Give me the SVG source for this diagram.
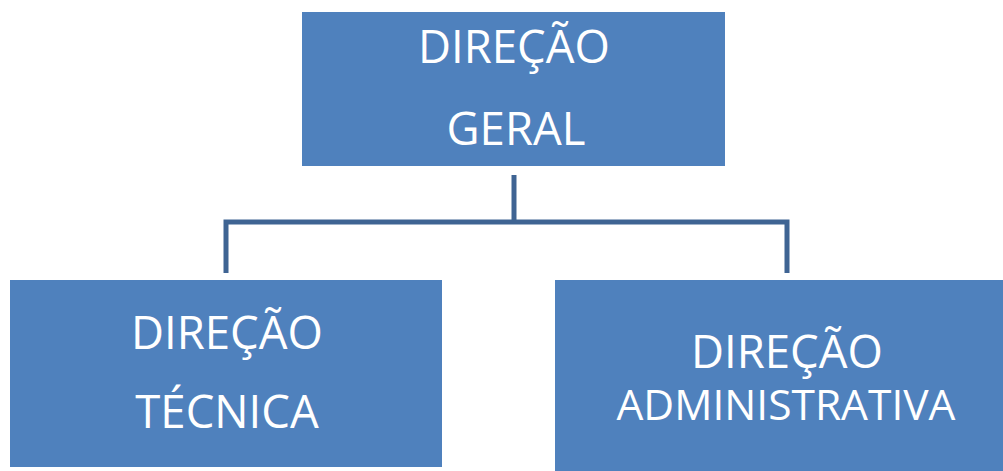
<svg xmlns="http://www.w3.org/2000/svg" width="1003" height="471" viewBox="0 0 1003 471">
<style>
.box{fill:#4F81BD;}
.t{fill:#FFFFFF;font-family:"Open Sans","Liberation Sans",sans-serif;font-size:45.5px;text-anchor:middle;}
.s{font-size:42.5px;}
.c{fill:none;stroke:#3F6493;stroke-width:5;stroke-linejoin:miter;}
</style>
<rect width="1003" height="471" fill="#FFFFFF"/>
<g id="connectors">
<path class="c" d="M514 175 V222"/>
<path class="c" d="M226 273 V222 H787 V273"/>
</g>
<g id="direcao-geral">
<rect class="box" x="302" y="12" width="423" height="154"/>
<text class="t" x="514" y="63">DIREÇÃO</text>
<text class="t" x="516" y="145">GERAL</text>
</g>
<g id="direcao-tecnica">
<rect class="box" x="10" y="280" width="432" height="187"/>
<text class="t" x="227" y="349">DIREÇÃO</text>
<text class="t" x="227" y="428">TÉCNICA</text>
</g>
<g id="direcao-administrativa">
<rect class="box" x="555" y="280" width="448" height="191"/>
<text class="t" x="787" y="368">DIREÇÃO</text>
<text class="t s" x="786" y="420">ADMINISTRATIVA</text>
</g>
</svg>
